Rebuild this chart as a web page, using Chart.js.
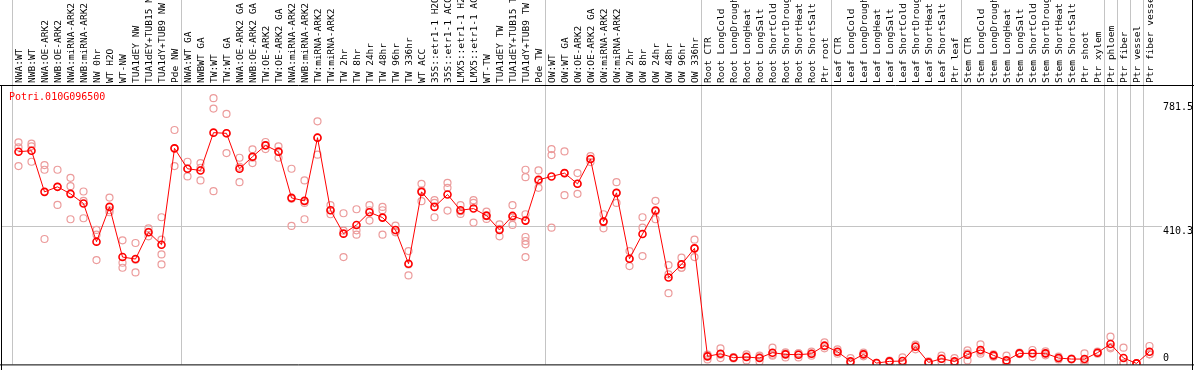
<!DOCTYPE html>
<html>
<head>
<meta charset="utf-8">
<script src="https://cdn.jsdelivr.net/npm/chart.js@4.4.1/dist/chart.umd.min.js"></script>
<style>
html, body { margin: 0; padding: 0; background: #fff; }
#wrap { position: relative; width: 1194px; height: 370px; }
#title { position: absolute; left: 9px; top: 91px; font: 10px "DejaVu Sans Mono", monospace; color: #f00; line-height: 12px; }
</style>
</head>
<body>
<div id="wrap">
  <canvas id="chart" width="1194" height="370"></canvas>
  <div id="title">Potri.010G096500</div>
</div>
<script>
const labels = [
  'NWA:WT', 'NWB:WT', 'NWA:OE-ARK2', 'NWB:OE-ARK2', 'NWA:miRNA-ARK2', 'NWB:miRNA-ARK2', 'NW 0hr', 'WT H2O', 'WT-NW',
  'TUA1dEY NW', 'TUA1dEY+TUB15 NW', 'TUA1dY+TUB9 NW', 'Pde NW',
  'NWA:WT GA', 'NWBWT GA', 'TW:WT', 'TW:WT GA', 'NWA:OE-ARK2 GA', 'NWB:OE-ARK2 GA', 'TW:OE-ARK2', 'TW:OE-ARK2 GA',
  'NWA:miRNA-ARK2 GA', 'NWB:miRNA-ARK2 GA', 'TW:miRNA-ARK2', 'TW:miRNA-ARK2',
  'TW 2hr', 'TW 8hr', 'TW 24hr', 'TW 48hr', 'TW 96hr', 'TW 336hr', 'WT ACC',
  '35S::etr1-1 H2O', '35S::etr1-1 ACC', 'LMX5::etr1-1 H2O', 'LMX5::etr1-1 ACC',
  'WT-TW', 'TUA1dEY TW', 'TUA1dEY+TUB15 TW', 'TUA1dY+TUB9 TW', 'Pde TW',
  'OW:WT', 'OW:WT GA', 'OW:OE-ARK2', 'OW:OE-ARK2 GA', 'OW:miRNA-ARK2', 'OW:miRNA-ARK2',
  'OW 2hr', 'OW 8hr', 'OW 24hr', 'OW 48hr', 'OW 96hr', 'OW 336hr',
  'Root CTR', 'Root LongCold', 'Root LongDrought', 'Root LongHeat', 'Root LongSalt',
  'Root ShortCold', 'Root ShortDrought', 'Root ShortHeat', 'Root ShortSalt', 'Ptr root',
  'Leaf CTR', 'Leaf LongCold', 'Leaf LongDrought', 'Leaf LongHeat', 'Leaf LongSalt',
  'Leaf ShortCold', 'Leaf ShortDrought', 'Leaf ShortHeat', 'Leaf ShortSalt', 'Ptr leaf',
  'Stem CTR', 'Stem LongCold', 'Stem LongDrought', 'Stem LongHeat', 'Stem LongSalt',
  'Stem ShortCold', 'Stem ShortDrought', 'Stem ShortHeat', 'Stem ShortSalt', 'Ptr shoot',
  'Ptr xylem', 'Ptr phloem', 'Ptr fiber', 'Ptr vessel', 'Ptr fiber vessel'
];

const means = [
  633, 636, 513, 528, 507, 478, 364, 468, 318, 312, 392, 355, 643,
  582, 577, 690, 688, 582, 618, 652, 633, 495, 486, 675, 458,
  388, 414, 452, 436, 399, 298, 513, 468, 505, 458, 463, 442, 399, 441, 427, 549,
  559, 569, 537, 611, 424, 510, 313, 387, 457, 257, 296, 344,
  21, 29, 17, 19, 16, 32, 27, 26, 29, 53,
  35, 6, 27, 1, 6, 7, 50, 3, 14, 6,
  26, 40, 24, 9, 30, 30, 30, 16, 13, 13,
  32, 58, 16, 0, 35
];

const replicates = [
  [661, 646, 590], [657, 649, 603], [593, 579, 372], [579, 528, 474], [555, 530, 431],
  [514, 486, 434], [399, 385, 309], [496, 458, 452], [368, 301, 286], [360, 310, 272],
  [404, 393, 380], [437, 370, 326, 296], [698, 643, 590],
  [603, 582, 559], [599, 585, 547], [793, 762, 515], [746, 688, 629], [615, 588, 542],
  [640, 615, 599], [662, 652, 641], [649, 635, 615], [582, 492, 411], [547, 480, 431],
  [724, 675, 624], [473, 458, 446],
  [449, 397, 318], [461, 398, 385], [473, 458, 427], [468, 458, 385], [412, 393, 392],
  [336, 296, 263], [537, 517, 485], [488, 480, 437], [540, 525, 457], [473, 455, 447],
  [488, 480, 421], [454, 440, 432], [416, 402, 380], [473, 436, 414],
  [579, 557, 446, 378, 366, 356, 318], [577, 545, 525],
  [641, 623, 406], [634, 569, 503], [569, 537, 507], [620, 611, 602], [446, 424, 404],
  [542, 510, 480], [336, 313, 291], [437, 406, 321], [486, 454, 431], [294, 266, 210],
  [316, 286, 286], [370, 344, 318],
  [26, 24, 12], [45, 26, 16], [19, 17, 15], [27, 21, 9], [23, 19, 6],
  [47, 26, 23], [30, 33, 18], [30, 30, 18], [35, 29, 23], [63, 51, 45],
  [42, 34, 29], [16, 1, 1], [32, 28, 21], [2, 1, 0], [8, 6, 4],
  [18, 2, 1], [56, 52, 42], [6, 2, 1], [23, 14, 5], [16, 1, 1],
  [30, 39, 9], [57, 35, 29], [27, 24, 20], [23, 4, 0], [32, 30, 28],
  [40, 31, 19], [36, 30, 24], [20, 16, 12], [14, 13, 12], [30, 9, 0],
  [35, 32, 29], [80, 49, 45], [47, 1, 0], [0, 0, 0], [52, 27, 27]
];

const yTicks = [0, 410.3, 781.5];
// index of first category in each sample group (grid line drawn at its left edge)
const groupStarts = [0, 13, 41, 53, 63, 73, 84, 85, 86, 87, 88];

const GRID = '#c4c4c4';
const NONE = 'rgba(0,0,0,0)';

// one dataset per replicate slot, aligned with the categories
const maxReps = Math.max(...replicates.map(r => r.length));
const repDatasets = [];
for (let k = 0; k < maxReps; k++) {
  repDatasets.push({
    label: 'rep ' + (k + 1),
    data: replicates.map(r => (k < r.length ? r[k] : null)),
    showLine: false,
    pointRadius: 3.5,
    pointBorderWidth: 1.2,
    pointBorderColor: '#ec9c9c',
    pointBackgroundColor: NONE,
    order: 1
  });
}

// frame, y labels and the left stub of the mid grid line
const framePlugin = {
  id: 'frame',
  afterDraw(chart) {
    const { ctx, chartArea } = chart;
    const y = chart.scales.y;
    ctx.save();

    const mid = Math.round(y.getPixelForValue(410.3)) + 0.5;
    ctx.strokeStyle = GRID;
    ctx.lineWidth = 1;
    ctx.beginPath();
    ctx.moveTo(2, mid);
    ctx.lineTo(chartArea.left, mid);
    ctx.stroke();

    ctx.font = '10px "DejaVu Sans Mono", monospace';
    ctx.fillStyle = '#000';
    ctx.textAlign = 'left';
    y.ticks.forEach(t => {
      const py = y.getPixelForValue(t.value);
      if (t.value === 0) {
        ctx.textBaseline = 'bottom';
        ctx.fillText('0', chartArea.right + 7, py);
      } else {
        ctx.textBaseline = 'top';
        ctx.fillText(String(t.value), chartArea.right + 7, py);
      }
    });

    ctx.strokeStyle = '#000';
    ctx.beginPath();
    ctx.moveTo(0, chartArea.top + 0.5);
    ctx.lineTo(chart.width, chartArea.top + 0.5);
    ctx.moveTo(0, chartArea.bottom + 0.5);
    ctx.lineTo(chart.width, chartArea.bottom + 0.5);
    ctx.moveTo(1.5, chartArea.top);
    ctx.lineTo(1.5, chart.height);
    ctx.moveTo(chart.width - 1.5, 0);
    ctx.lineTo(chart.width - 1.5, chart.height);
    ctx.stroke();
    ctx.restore();
  }
};

const ctx = document.getElementById('chart').getContext('2d');
new Chart(ctx, {
  type: 'line',
  data: {
    labels: labels,
    datasets: [
      {
        label: 'mean',
        data: means,
        borderColor: '#ff0000',
        borderWidth: 1,
        pointRadius: 3.5,
        pointBorderWidth: 1.6,
        pointBorderColor: '#ff0000',
        pointBackgroundColor: NONE,
        tension: 0,
        order: 0
      },
      ...repDatasets
    ]
  },
  options: {
    responsive: false,
    animation: false,
    layout: { padding: { left: 12, right: 0, top: 0, bottom: 2 } },
    plugins: {
      legend: { display: false },
      tooltip: { enabled: false }
    },
    scales: {
      x: {
        position: 'top',
        offset: true,
        grid: {
          offset: true,
          drawTicks: true,
          tickLength: 85,
          lineWidth: 1,
          color: c => groupStarts.includes(c.index) ? GRID : NONE
        },
        border: { display: false },
        ticks: {
          autoSkip: false,
          minRotation: 90,
          maxRotation: 90,
          padding: -83,
          labelOffset: 12,
          color: '#000',
          font: { family: '"DejaVu Sans Mono", monospace', size: 9.5 }
        },
        afterFit: s => { s.height = 85; }
      },
      y: {
        position: 'right',
        min: -3,
        max: 832.5,
        afterBuildTicks: s => { s.ticks = yTicks.map(v => ({ value: v })); },
        grid: {
          drawTicks: true,
          tickLength: 6,
          color: c => (c.tick && c.tick.value === 410.3) ? GRID : NONE
        },
        border: { display: false },
        ticks: { display: false },
        afterFit: s => { s.width = 38; }
      }
    }
  },
  plugins: [framePlugin]
});
</script>
</body>
</html>
